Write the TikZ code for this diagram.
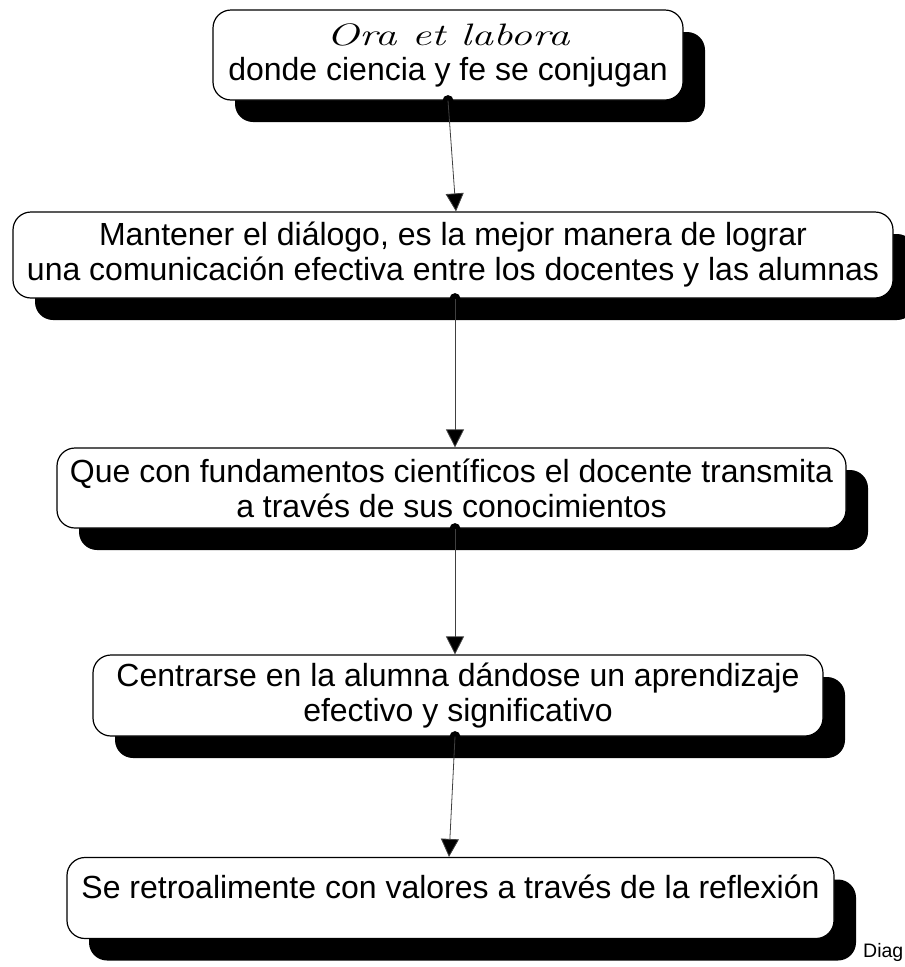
\documentclass[tikz,border=0pt]{standalone}
\usepackage{fontspec}
\newfontfamily\arialfont{Liberation Sans}
\usetikzlibrary{shadows,arrows.meta,calc}
\begin{document}
\begin{tikzpicture}[x=1pt,y=-1pt,
  box/.style={draw=black, line width=1.2pt, fill=white, rounded corners=18pt,
    align=center, inner sep=0pt,
    font=\arialfont\fontsize{32}{35}\selectfont,
    drop shadow={shadow xshift=22pt, shadow yshift=-22pt, fill=black, opacity=1}},
  link/.style={draw=black!75, line width=0.8pt, -{Triangle[width=18pt,length=18pt,fill=black]}},
  dot/.style={circle, fill=black, inner sep=0pt, minimum size=11pt}]
\useasboundingbox (0,0) rectangle (905,967);

\node[box, minimum width=470pt, minimum height=90pt] (b1) at (448,55)
  {{\rmfamily\itshape\fontsize{31}{37}\selectfont\scalebox{1.4}[1]{Ora et labora}}\\ donde ciencia y fe se conjugan};
\node[box, minimum width=880pt, minimum height=86pt] (b2) at (453,255)
  {Mantener el diálogo, es la mejor manera de lograr\\una comunicación efectiva entre los docentes y las alumnas};
\node[box, minimum width=789pt, minimum height=80pt] (b3) at (451.5,488)
  {Que con fundamentos científicos el docente transmita\\a través de sus conocimientos};
\node[box, minimum width=730pt, minimum height=81pt] (b4) at (458,695.5)
  {Centrarse en la alumna dándose un aprendizaje\\efectivo y significativo};
\node[box, minimum width=767pt, minimum height=81pt, text height=25pt, text depth=25pt] (b5) at (450.5,898)
  {Se retroalimente con valores a través de la reflexión};

\node[dot] (d1) at (b1.south) {};
\node[dot] (d2) at ([xshift=2pt]b2.south) {};
\node[dot] (d3) at ([xshift=3.5pt]b3.south) {};
\node[dot] (d4) at ([xshift=-3pt]b4.south) {};

\coordinate (t2) at ([xshift=3pt]b2.north);
\coordinate (t3) at ([xshift=3.5pt]b3.north);
\coordinate (t4) at ([xshift=-3pt]b4.north);
\coordinate (t5) at ([xshift=-1.5pt]b5.north);

\draw[link] (d1.center) -- (t2);
\draw[link] (d2.center) -- (t3);
\draw[link] (d3.center) -- (t4);
\draw[link] (d4.center) -- (t5);

\node[font=\arialfont\fontsize{19.5}{22}\selectfont, anchor=base west, inner sep=0pt] (lbl) at (863,957) {Diag};
\end{tikzpicture}
\end{document}
